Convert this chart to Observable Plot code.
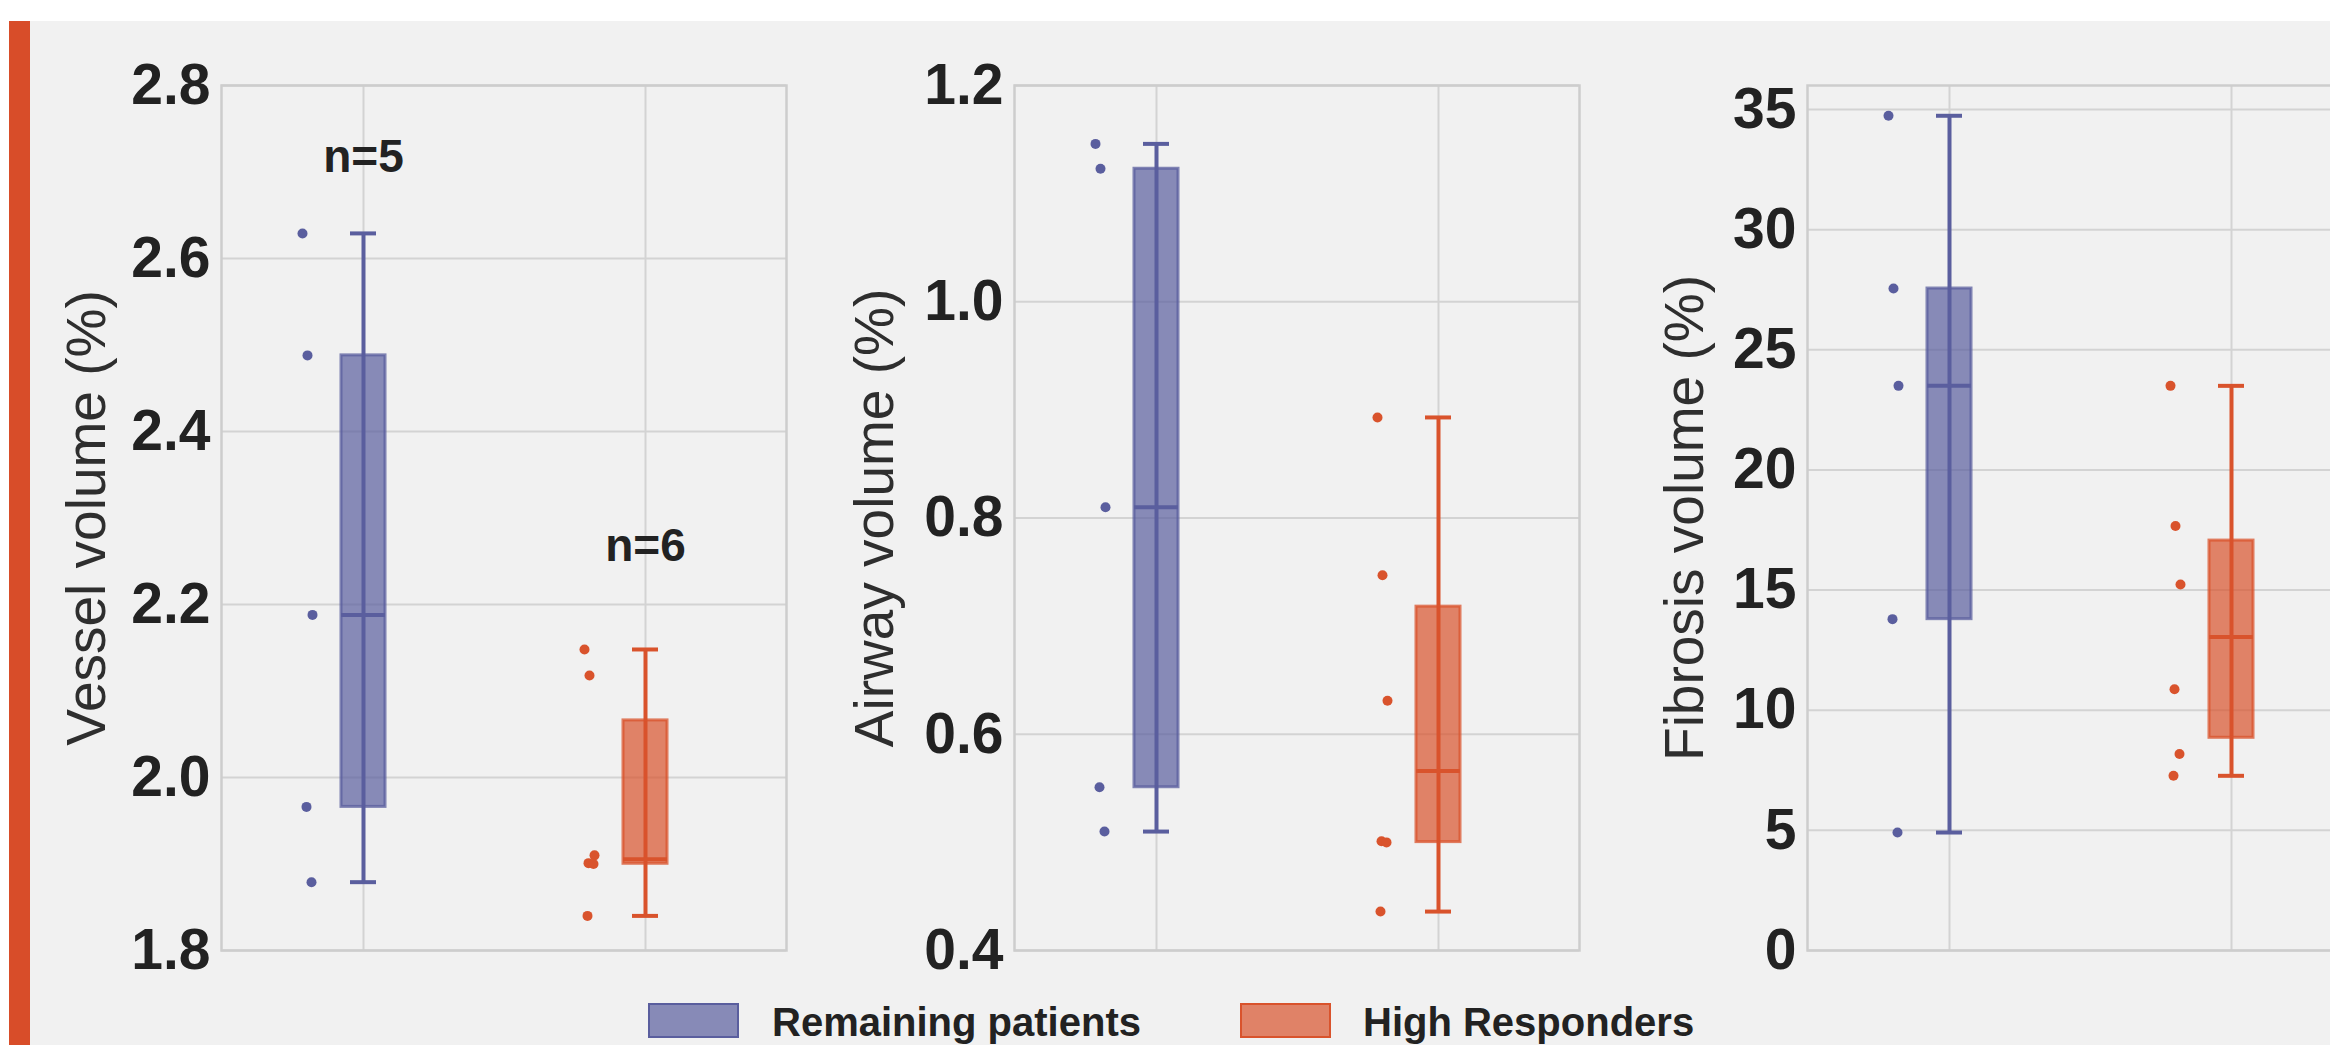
<!DOCTYPE html>
<html>
<head>
<meta charset="utf-8">
<script src="https://cdn.jsdelivr.net/npm/d3@7"></script>
<script src="https://cdn.jsdelivr.net/npm/@observablehq/plot@0.6"></script>
<style>
  html, body { margin: 0; padding: 0; }
  body { width: 2330px; height: 1045px; overflow: hidden; background: #ffffff; position: relative;
         font-family: "Liberation Sans", Arial, sans-serif; }
  #bg { position: absolute; left: 30px; top: 21px; width: 2300px; height: 1024px; background: #f1f1f1; }
  #bar { position: absolute; left: 9px; top: 21px; width: 21px; height: 1024px; background: #d84d29; }
  .panel { position: absolute; top: 21px; width: 793px; height: 970px; }
  .panel svg { max-width: none !important; }
  .legend-swatch { position: absolute; top: 1003px; width: 87px; height: 31px; border: 2px solid; }
  .legend-text { position: absolute; top: 1002px; line-height: 40px; font-size: 40px; font-weight: 700; color: #222; white-space: nowrap; }
</style>
</head>
<body>
<div id="bg"></div>
<div id="bar"></div>
<div id="panels"></div>
<div id="legend"></div>
<script>
// ---------- data ----------
const groups = ["Remaining patients", "High Responders"];
const groupColors = ["#5a5e9e", "#d9532c"];

const vesselRemaining = [2.629, 2.488, 2.188, 1.966, 1.879];
const vesselHigh = [2.148, 2.118, 1.910, 1.901, 1.900, 1.840];

const airwayRemaining = [1.146, 1.123, 0.810, 0.551, 0.510];
const airwayHigh = [0.893, 0.747, 0.631, 0.501, 0.500, 0.436];

const fibrosisRemaining = [34.74, 27.55, 23.50, 13.79, 4.91];
const fibrosisHigh = [23.50, 17.67, 15.23, 10.87, 8.18, 7.27];

const vesselTicks = [1.8, 2.0, 2.2, 2.4, 2.6, 2.8];
const airwayTicks = [0.4, 0.6, 0.8, 1.0, 1.2];
const fibrosisTicks = [0, 5, 10, 15, 20, 25, 30, 35];

const nLabels = ["n=5", "n=6"];
const nLabelY = [2.717, 2.267];

const titles = ["Vessel volume (%)", "Airway volume (%)", "Fibrosis volume (%)"];

// ---------- layout / config ----------
const panels = [
  {title: titles[0], series: [vesselRemaining, vesselHigh], domain: [1.8, 2.8], ticks: vesselTicks, digits: 1, titleDx: -134, labels: true},
  {title: titles[1], series: [airwayRemaining, airwayHigh], domain: [0.4, 1.2], ticks: airwayTicks, digits: 1, titleDx: -139, labels: false},
  {title: titles[2], series: [fibrosisRemaining, fibrosisHigh], domain: [0, 36], ticks: fibrosisTicks, digits: 0, titleDx: -122, labels: false}
];

const panelWidth = 793;
const svgHeight = 970;
const boxInset = 119;
const capInset = 128;

function stats(values, g) {
  const v = values.slice().sort(d3.ascending);
  return {
    group: g,
    min: d3.min(v),
    q1: d3.quantile(v, 0.25),
    median: d3.quantile(v, 0.5),
    q3: d3.quantile(v, 0.75),
    max: d3.max(v)
  };
}

const container = document.getElementById("panels");

panels.forEach((p, pi) => {
  const boxStats = p.series.map((vals, gi) => stats(vals, groups[gi]));
  const marks = [
    Plot.gridY(p.ticks, {stroke: "#d3d3d3", strokeOpacity: 1, strokeWidth: 2}),
    Plot.gridX(groups, {stroke: "#d3d3d3", strokeOpacity: 1, strokeWidth: 2}),
    Plot.frame({stroke: "#cdcdcd", strokeWidth: 2.5}),
    Plot.axisY({ticks: p.ticks, tickFormat: d => d.toFixed(p.digits), tickSize: 0, tickPadding: 11,
                fontSize: 57, fontWeight: 700, label: null}),
    Plot.text([p.title], {frameAnchor: "left", rotate: -90, dx: p.titleDx, textAnchor: "middle",
                          lineAnchor: "middle", fontSize: 55, fill: "#2e2e2e"}),
    // whiskers
    Plot.ruleX(boxStats, {x: "group", y1: "min", y2: "max", stroke: "group", strokeWidth: 4}),
    Plot.tickY(boxStats, {x: "group", y: "min", stroke: "group", strokeWidth: 4, insetLeft: capInset, insetRight: capInset}),
    Plot.tickY(boxStats, {x: "group", y: "max", stroke: "group", strokeWidth: 4, insetLeft: capInset, insetRight: capInset}),
    // boxes
    Plot.barY(boxStats, {x: "group", y1: "q1", y2: "q3", fill: "group", fillOpacity: 0.7,
                         stroke: "group", strokeOpacity: 0.75, strokeWidth: 3, insetLeft: boxInset, insetRight: boxInset}),
    Plot.tickY(boxStats, {x: "group", y: "median", stroke: "group", strokeWidth: 4, insetLeft: boxInset, insetRight: boxInset})
  ];
  // all points, drawn to the left of each box
  p.series.forEach((vals, gi) => {
    vals.forEach((v, i) => {
      const jitter = -56 + ((i * 5) % 11) - 5;
      marks.push(Plot.dot([{group: groups[gi], value: v}], {x: "group", y: "value", fill: "group", r: 5, dx: jitter}));
    });
  });
  if (p.labels) {
    marks.push(Plot.text(nLabels.map((t, i) => ({group: groups[i], label: t, y: nLabelY[i]})),
      {x: "group", y: "y", text: "label", fontSize: 46, fontWeight: 700, fill: "#222", lineAnchor: "middle"}));
  }

  const chart = Plot.plot({
    width: panelWidth,
    height: svgHeight,
    marginTop: 64,
    marginBottom: 41,
    marginLeft: 221,
    marginRight: 7,
    style: {background: "transparent", color: "#222", fontFamily: "'Liberation Sans', Arial, sans-serif", overflow: "visible", maxWidth: "none"},
    x: {type: "band", domain: groups, padding: 0, axis: null},
    y: {domain: p.domain, axis: null},
    color: {domain: groups, range: groupColors},
    marks
  });
  chart.style.maxWidth = "none";
  chart.style.width = panelWidth + "px";
  chart.style.height = svgHeight + "px";
  const wrap = document.createElement("div");
  wrap.className = "panel";
  wrap.style.left = (pi * panelWidth) + "px";
  wrap.appendChild(chart);
  container.appendChild(wrap);
});

// ---------- legend ----------
const legend = document.getElementById("legend");
const swatchLeft = [648, 1240];
const textLeft = [772, 1363];
groups.forEach((g, i) => {
  const sw = document.createElement("div");
  sw.className = "legend-swatch";
  sw.style.left = swatchLeft[i] + "px";
  sw.style.borderColor = groupColors[i];
  const c = d3.color(groupColors[i]);
  c.opacity = 0.7;
  sw.style.background = c.formatRgb();
  legend.appendChild(sw);
  const tx = document.createElement("div");
  tx.className = "legend-text";
  tx.style.left = textLeft[i] + "px";
  tx.textContent = g;
  legend.appendChild(tx);
});
</script>
</body>
</html>
